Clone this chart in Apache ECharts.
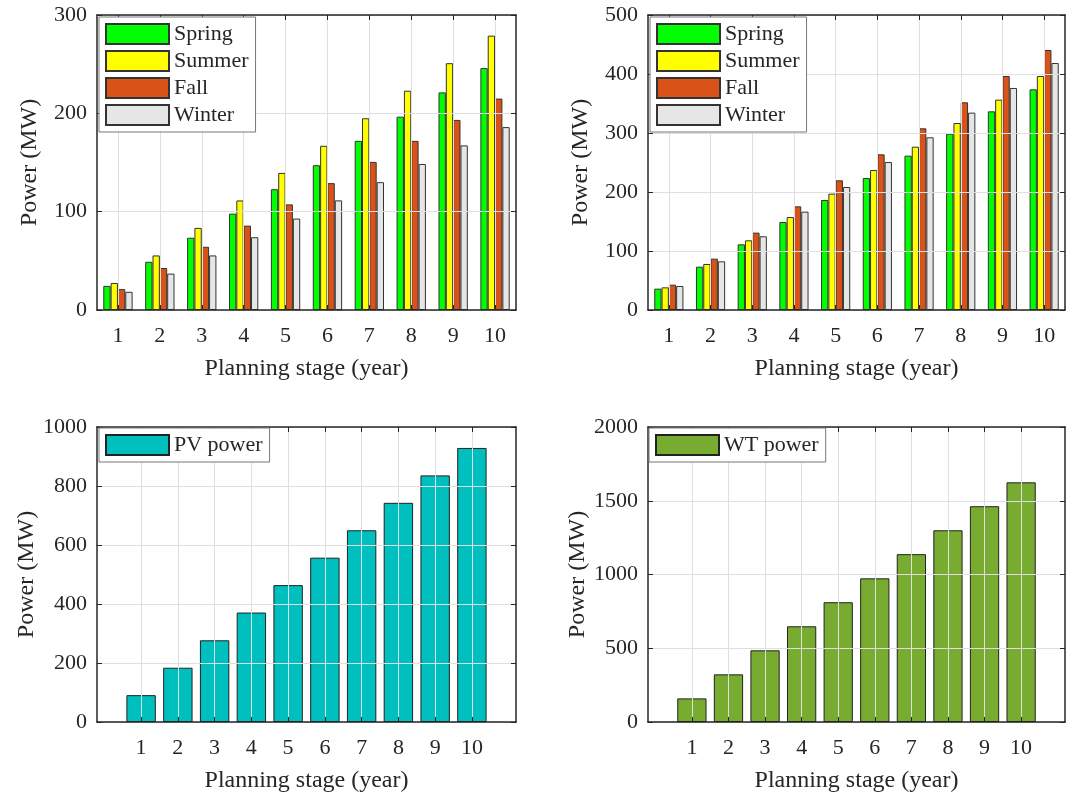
<!DOCTYPE html>
<html>
<head>
<meta charset="utf-8">
<script src="https://cdn.jsdelivr.net/npm/echarts@6/dist/echarts.min.js"></script>
<style>
html,body{margin:0;padding:0;background:#fff;}
#chart{width:1066px;height:798px;}
</style>
</head>
<body>
<div id="chart"></div>
<script>
// ---- data ----
var stages = [1, 2, 3, 4, 5, 6, 7, 8, 9, 10];
var stageLabels = ['1', '2', '3', '4', '5', '6', '7', '8', '9', '10'];
var seasonNames = ['Spring', 'Summer', 'Fall', 'Winter'];

// top-left panel (MW)
var springTL = [24.5, 49, 73.5, 98, 122.8, 147.2, 172, 196.6, 221.3, 246];
var summerTL = [27.5, 55.5, 83.5, 111.4, 139.4, 167, 195, 223, 251, 279];
var fallTL   = [21.2, 42.7, 64.3, 85.8, 107.4, 129, 150.6, 172, 193.3, 215];
var winterTL = [18.5, 37, 55.5, 74, 93, 111.5, 130, 148.5, 167.4, 186];

// top-right panel (MW)
var springTR = [36.2, 73.4, 111.3, 149.2, 186.4, 223.7, 261.6, 298.9, 336.7, 374];
var summerTR = [38.4, 78, 118.1, 157.6, 197.2, 237.3, 276.8, 316.9, 356.5, 396.6];
var fallTR   = [42.9, 87, 131.1, 175.7, 219.8, 263.8, 307.9, 352, 396.6, 440.7];
var winterTR = [40.7, 82.5, 124.9, 166.7, 208.5, 250.8, 292.7, 334.5, 376.3, 418.6];

// bottom panels (MW)
var pvPower = [91, 184, 277, 371, 464, 557, 650, 743, 836, 929];
var wtPower = [160, 323, 486, 649, 812, 974, 1138, 1300, 1463, 1625];

var yTicksTL = [0, 100, 200, 300];
var yTicksTR = [0, 100, 200, 300, 400, 500];
var yTicksBL = [0, 200, 400, 600, 800, 1000];
var yTicksBR = [0, 500, 1000, 1500, 2000];

// ---- styling ----
var FONT = "'Liberation Serif', 'Times New Roman', serif";
var TXT = '#262626';
var seasonColors = ['#00ff00', '#ffff00', '#d95319', '#e6e6e6'];
var pvColor = '#00bfbf';
var wtColor = '#77ac30';

var grids = [
  {left: 97, top: 15, width: 419, height: 295},
  {left: 648, top: 15, width: 417, height: 295},
  {left: 97, top: 427, width: 419, height: 295},
  {left: 648, top: 427, width: 417, height: 295}
];
var xRanges = [[0.5, 10.5], [0.5, 10.5], [-0.2, 11.2], [-0.2, 11.2]];
var yTickSets = [yTicksTL, yTicksTR, yTicksBL, yTicksBR];

function pairs(vals) {
  return vals.map(function (v, i) { return [stages[i], v]; });
}

var xAxes = [], yAxes = [];
for (var g = 0; g < 4; g++) {
  var yt = yTickSets[g];
  xAxes.push({
    type: 'value', gridIndex: g, position: 'bottom', min: xRanges[g][0], max: xRanges[g][1], z: 10,
    name: 'Planning stage (year)', nameLocation: 'middle', nameGap: 47,
    nameTextStyle: {fontFamily: FONT, fontSize: 24, color: TXT},
    axisLine: {show: true, onZero: false, lineStyle: {color: TXT, width: 1.5}},
    axisTick: {show: true, inside: true, length: 5, customValues: stages, lineStyle: {color: TXT, width: 1}},
    axisLabel: {show: true, customValues: stages, margin: 15, fontFamily: FONT, fontSize: 22, color: TXT,
      formatter: function (v) { return stageLabels[stages.indexOf(v)]; }},
    splitLine: {show: true, lineStyle: {color: '#dfdfdf', width: 1}}
  });
  xAxes.push({
    type: 'value', gridIndex: g, position: 'top', min: xRanges[g][0], max: xRanges[g][1], z: 10,
    axisLine: {show: true, onZero: false, lineStyle: {color: TXT, width: 1.5}},
    axisTick: {show: true, inside: true, length: 5, customValues: stages, lineStyle: {color: TXT, width: 1}},
    axisLabel: {show: false},
    splitLine: {show: false}
  });
  yAxes.push({
    type: 'value', gridIndex: g, position: 'left', min: yt[0], max: yt[yt.length - 1], interval: yt[1] - yt[0], z: 10,
    name: 'Power (MW)', nameLocation: 'middle', nameGap: 55, nameRotate: 90,
    nameTextStyle: {fontFamily: FONT, fontSize: 24, color: TXT},
    axisLine: {show: true, onZero: false, lineStyle: {color: TXT, width: 1.5}},
    axisTick: {show: true, inside: true, length: 5, lineStyle: {color: TXT, width: 1}},
    axisLabel: {show: true, margin: 10, fontFamily: FONT, fontSize: 22, color: TXT,
      formatter: function (v) { return String(v); }},
    splitLine: {show: true, lineStyle: {color: '#dfdfdf', width: 1}}
  });
  yAxes.push({
    type: 'value', gridIndex: g, position: 'right', min: yt[0], max: yt[yt.length - 1], interval: yt[1] - yt[0], z: 10,
    axisLine: {show: true, onZero: false, lineStyle: {color: TXT, width: 1.5}},
    axisTick: {show: true, inside: true, length: 5, lineStyle: {color: TXT, width: 1}},
    axisLabel: {show: false},
    splitLine: {show: false}
  });
}

var series = [];
var topSets = [[springTL, summerTL, fallTL, winterTL], [springTR, summerTR, fallTR, winterTR]];
for (var p = 0; p < 2; p++) {
  for (var s = 0; s < 4; s++) {
    series.push({
      type: 'bar', name: seasonNames[s], xAxisIndex: p * 2, yAxisIndex: p * 2,
      data: pairs(topSets[p][s]),
      barGap: '0%', barCategoryGap: '30%',
      itemStyle: {color: seasonColors[s], borderColor: '#333', borderWidth: 1},
      emphasis: {disabled: true}
    });
  }
}
series.push({
  type: 'bar', name: 'PV power', xAxisIndex: 4, yAxisIndex: 4, data: pairs(pvPower), barWidth: '80%',
  itemStyle: {color: pvColor, borderColor: '#222', borderWidth: 1}, emphasis: {disabled: true}
});
series.push({
  type: 'bar', name: 'WT power', xAxisIndex: 6, yAxisIndex: 6, data: pairs(wtPower), barWidth: '80%',
  itemStyle: {color: wtColor, borderColor: '#222', borderWidth: 1}, emphasis: {disabled: true}
});

function legendCfg(left, top, names) {
  return {
    left: left, top: top, orient: 'vertical', data: names, z: 20,
    itemWidth: 63, itemHeight: 20, itemGap: 5, icon: 'rect',
    padding: [6, 7, 6, 6], backgroundColor: '#fff', borderColor: '#777', borderWidth: 1,
    textStyle: {fontFamily: FONT, fontSize: 22, color: TXT, lineHeight: 20},
    selectedMode: false
  };
}

var option = {
  animation: false,
  backgroundColor: '#fff',
  grid: grids,
  xAxis: xAxes,
  yAxis: yAxes,
  legend: [
    legendCfg(99, 17, seasonNames),
    legendCfg(650, 17, seasonNames),
    legendCfg(99, 428, ['PV power']),
    legendCfg(649, 428, ['WT power'])
  ],
  series: series
};

var chart = echarts.init(document.getElementById('chart'), null, {renderer: 'canvas'});
chart.setOption(option);
</script>
</body>
</html>
